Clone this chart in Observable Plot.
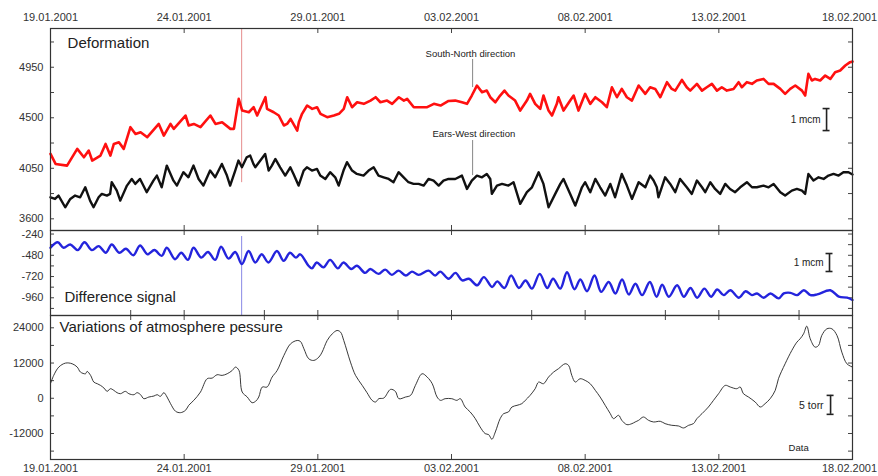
<!DOCTYPE html>
<html><head><meta charset="utf-8">
<script src="https://cdn.jsdelivr.net/npm/d3@7"></script>
<script src="https://cdn.jsdelivr.net/npm/@observablehq/plot@0.6"></script>
<style>
body{margin:0;background:#fff;}
#chart{width:878px;height:476px;}
#chart svg{display:block;overflow:visible;}
</style></head><body><div id="chart"></div>
<script>
// ---- data (day offset from 19.01.2001, value) ----
const startDate = Date.UTC(2001, 0, 19);
const dayTicks = [0, 5, 10, 15, 20, 25, 30];
const minorDayTicks = [3, 8, 13, 18, 23, 28];
const deformTicks = [3600, 3825, 4050, 4275, 4500, 4725, 4950, 5175];
const deformLabels = [3600, 4050, 4500, 4950];
const diffTicks = [-1080, -960, -840, -720, -600, -480, -360, -240];
const diffLabels = [-960, -720, -480, -240];
const pressTicks = [-18000, -12000, -6000, 0, 6000, 12000, 18000, 24000];
const pressLabels = [-12000, 0, 12000, 24000];

const southNorth = [[0,4178],[0.19,4089],[0.62,4074],[1.0,4223],[1.25,4148],[1.43,4208],[1.56,4119],[1.87,4163],[2.06,4267],[2.24,4163],[2.37,4267],[2.56,4282],[2.74,4223],[2.99,4416],[3.18,4356],[3.37,4371],[3.62,4327],[4.05,4445],[4.24,4341],[4.49,4445],[4.61,4401],[5.05,4520],[5.17,4431],[5.36,4445],[5.61,4416],[5.98,4520],[6.17,4445],[6.42,4460],[6.73,4401],[6.86,4401],[7.04,4668],[7.17,4564],[7.42,4549],[7.6,4594],[7.73,4520],[8.04,4683],[8.1,4579],[8.35,4549],[8.54,4520],[8.73,4431],[8.85,4445],[8.98,4490],[9.23,4386],[9.29,4460],[9.41,4535],[9.6,4609],[9.79,4579],[9.97,4594],[10.1,4535],[10.35,4505],[10.6,4520],[10.79,4535],[10.97,4579],[11.1,4683],[11.28,4594],[11.47,4638],[11.72,4624],[11.97,4653],[12.16,4683],[12.34,4638],[12.59,4653],[12.78,4624],[13.03,4683],[13.22,4653],[13.34,4668],[13.59,4594],[13.84,4594],[14.09,4594],[14.34,4624],[14.59,4609],[14.89,4650],[15.14,4653],[15.39,4638],[15.58,4624],[15.76,4698],[15.95,4787],[16.14,4728],[16.32,4742],[16.45,4683],[16.64,4638],[16.82,4698],[16.98,4742],[17.13,4698],[17.38,4653],[17.57,4564],[17.82,4653],[17.94,4713],[18.13,4624],[18.32,4579],[18.44,4698],[18.63,4564],[18.76,4520],[18.94,4624],[19.0,4683],[19.19,4564],[19.44,4653],[19.57,4698],[19.75,4564],[20.0,4713],[20.19,4624],[20.38,4683],[20.63,4638],[20.81,4594],[21.0,4772],[21.19,4683],[21.37,4757],[21.56,4683],[21.75,4653],[22.0,4787],[22.25,4713],[22.43,4772],[22.62,4757],[22.81,4683],[23.06,4817],[23.24,4757],[23.37,4742],[23.62,4837],[23.8,4772],[23.93,4742],[24.18,4802],[24.37,4742],[24.55,4772],[24.74,4802],[24.93,4742],[25.11,4772],[25.3,4742],[25.55,4757],[25.74,4817],[25.86,4772],[26.05,4817],[26.24,4802],[26.42,4832],[26.67,4846],[26.86,4802],[27.05,4802],[27.3,4757],[27.48,4713],[27.67,4757],[27.86,4787],[28.11,4742],[28.23,4698],[28.35,4891],[28.48,4832],[28.6,4846],[28.79,4832],[28.98,4876],[29.17,4846],[29.35,4906],[29.54,4921],[29.73,4965],[29.91,4995],[30,5000]];

const eastWest = [[0,3792],[0.17,3777],[0.3,3807],[0.55,3703],[0.74,3777],[0.92,3807],[1.11,3792],[1.3,3881],[1.48,3762],[1.61,3703],[1.8,3792],[1.92,3822],[2.11,3807],[2.23,3822],[2.29,3926],[2.48,3851],[2.61,3762],[2.86,3896],[3.04,3955],[3.17,3911],[3.35,3955],[3.6,3837],[3.85,3940],[3.98,3985],[4.16,3881],[4.35,4074],[4.6,3940],[4.73,3896],[4.97,4015],[5.16,3970],[5.35,4074],[5.54,3955],[5.72,3896],[5.97,4030],[6.16,3970],[6.41,4089],[6.6,3985],[6.72,3896],[6.91,4030],[7.03,4119],[7.16,4059],[7.34,4148],[7.47,4163],[7.59,4089],[7.66,4059],[7.85,4119],[8.03,4178],[8.16,4030],[8.28,4074],[8.41,4133],[8.59,4059],[8.78,3985],[8.97,4059],[9.09,4000],[9.28,3896],[9.47,4030],[9.59,4059],[9.78,4030],[9.97,4044],[10.09,3985],[10.28,3955],[10.46,4015],[10.65,3970],[10.78,3896],[10.96,4030],[11.09,4104],[11.28,4030],[11.46,4000],[11.71,3985],[11.9,4030],[12.09,4059],[12.27,3985],[12.46,3970],[12.65,3955],[12.83,3926],[13.02,4015],[13.21,3970],[13.39,3926],[13.58,3911],[13.77,3911],[13.96,3896],[14.14,3955],[14.33,3940],[14.52,3896],[14.7,3940],[14.89,3955],[15.14,3955],[15.39,3985],[15.58,3866],[15.76,3940],[15.95,3985],[16.14,3970],[16.32,4000],[16.45,3955],[16.51,3822],[16.7,3896],[16.89,3911],[17.13,3896],[17.32,3926],[17.57,3733],[17.82,3837],[18.01,3881],[18.26,4015],[18.44,3911],[18.63,3703],[18.88,3822],[19.07,3911],[19.19,3955],[19.44,3822],[19.63,3718],[19.88,3881],[20.0,3926],[20.19,3837],[20.38,3955],[20.56,3881],[20.75,3807],[20.94,3911],[21.12,3792],[21.37,4000],[21.56,3896],[21.75,3777],[22.0,3926],[22.25,3881],[22.43,3985],[22.56,3941],[22.68,3881],[22.74,3792],[22.99,3970],[23.18,3911],[23.37,3837],[23.55,3955],[23.8,3881],[23.99,3822],[24.18,3941],[24.37,3881],[24.49,3837],[24.68,3926],[24.86,3866],[25.05,3822],[25.24,3911],[25.42,3866],[25.61,3837],[25.8,3881],[26.05,3926],[26.24,3881],[26.42,3881],[26.67,3896],[26.86,3881],[27.05,3911],[27.3,3837],[27.48,3807],[27.73,3851],[27.92,3866],[28.11,3851],[28.23,3822],[28.35,4000],[28.54,3941],[28.73,3970],[28.92,3955],[29.1,3985],[29.29,4000],[29.48,3985],[29.66,4015],[29.85,4015],[30,3995]];

const difference = [[0,-395],[0.27,-333],[0.49,-395],[0.74,-358],[1.02,-421],[1.27,-333],[1.55,-421],[1.8,-377],[2.07,-451],[2.29,-358],[2.57,-451],[2.82,-406],[3.1,-480],[3.35,-369],[3.63,-469],[3.89,-421],[4.16,-487],[4.35,-395],[4.66,-524],[4.89,-451],[5.14,-532],[5.35,-395],[5.64,-506],[5.89,-443],[6.16,-532],[6.38,-384],[6.66,-517],[6.91,-443],[7.16,-580],[7.41,-432],[7.66,-561],[7.9,-469],[8.15,-561],[8.47,-432],[8.72,-543],[8.96,-451],[9.18,-506],[9.34,-469],[9.65,-598],[9.78,-628],[9.96,-561],[10.21,-616],[10.46,-532],[10.75,-628],[10.96,-561],[11.25,-635],[11.46,-598],[11.77,-679],[11.96,-635],[12.27,-690],[12.52,-642],[12.77,-701],[13.02,-653],[13.29,-709],[13.52,-664],[13.77,-701],[14.14,-653],[14.39,-709],[14.58,-664],[14.89,-745],[15.15,-679],[15.4,-764],[15.65,-745],[15.96,-819],[16.21,-727],[16.52,-838],[16.71,-775],[16.98,-849],[17.23,-709],[17.52,-849],[17.77,-764],[18.01,-856],[18.3,-690],[18.58,-849],[18.8,-745],[19.07,-856],[19.32,-672],[19.6,-863],[19.82,-753],[20.07,-886],[20.35,-709],[20.6,-893],[20.88,-782],[21.13,-911],[21.38,-753],[21.63,-922],[21.88,-801],[22.13,-930],[22.42,-782],[22.67,-948],[22.88,-812],[23.13,-948],[23.44,-819],[23.69,-948],[23.94,-849],[24.19,-959],[24.46,-856],[24.71,-948],[24.94,-867],[25.18,-930],[25.43,-875],[25.75,-959],[26.0,-886],[26.24,-930],[26.43,-911],[26.68,-959],[26.93,-911],[27.24,-967],[27.43,-911],[27.68,-904],[27.93,-930],[28.18,-875],[28.43,-930],[28.68,-922],[29.17,-875],[29.49,-948],[29.8,-959],[30,-985]];

const pressure = [[0,5000],[0.12,7788],[0.31,10620],[0.56,11980],[0.81,11753],[1.0,10620],[1.12,8921],[1.31,8355],[1.37,9148],[1.5,7788],[1.62,5522],[1.75,4955],[1.87,4389],[2.0,3483],[2.12,2350],[2.24,3256],[2.37,2689],[2.49,1896],[2.62,1557],[2.8,2350],[2.93,1557],[3.12,1217],[3.24,1896],[3.37,1217],[3.49,-143],[3.68,424],[3.87,764],[3.99,1217],[4.11,651],[4.24,1896],[4.36,424],[4.49,-1843],[4.68,-4448],[4.86,-4902],[5.05,-4108],[5.17,-2409],[5.36,-710],[5.61,2123],[5.86,6655],[6.05,6882],[6.23,8015],[6.42,7788],[6.61,8355],[6.8,9487],[6.92,10620],[7.05,9487],[7.17,2123],[7.36,424],[7.54,-1502],[7.67,-1049],[7.79,424],[7.92,3823],[8.1,3823],[8.29,7222],[8.48,9487],[8.73,14586],[8.98,18552],[9.23,19685],[9.35,19345],[9.48,16852],[9.66,13453],[9.85,12887],[10.04,14020],[10.16,15719],[10.35,19685],[10.54,21951],[10.72,23084],[10.85,22517],[10.97,19685],[11.22,12320],[11.41,7788],[11.66,4389],[11.84,1896],[12.03,-710],[12.16,-1276],[12.28,-143],[12.47,84],[12.72,3029],[12.9,2350],[13.03,-143],[13.28,424],[13.47,990],[13.65,4389],[13.9,8355],[14.09,7222],[14.28,4955],[14.46,424],[14.59,-710],[14.76,-143],[15.01,-143],[15.2,-710],[15.33,-143],[15.51,-2974],[15.7,-4674],[15.89,-6941],[16.07,-9773],[16.26,-12040],[16.39,-12380],[16.51,-13966],[16.64,-11473],[16.82,-6941],[16.95,-5241],[17.13,-4674],[17.26,-2974],[17.45,-2409],[17.63,-1843],[17.76,-710],[17.94,990],[18.13,3256],[18.26,5522],[18.44,4955],[18.63,7222],[18.82,8921],[19.0,10054],[19.25,11753],[19.38,11187],[19.5,7788],[19.63,5522],[19.81,6655],[20.0,6088],[20.19,4955],[20.38,2689],[20.56,424],[20.75,-2409],[20.94,-5241],[21.06,-6941],[21.25,-5808],[21.37,-7507],[21.56,-8980],[21.75,-8641],[21.87,-8074],[22.0,-7507],[22.18,-6375],[22.37,-7507],[22.56,-8074],[22.81,-7847],[22.99,-8641],[23.24,-9207],[23.49,-9434],[23.68,-10113],[23.87,-9207],[24.05,-8641],[24.18,-6941],[24.37,-5241],[24.61,-2974],[24.8,-710],[24.99,1557],[25.24,4389],[25.43,3823],[25.67,3256],[25.8,3823],[25.92,1557],[26.11,424],[26.36,-1276],[26.55,-2974],[26.73,-1843],[26.92,-143],[27.11,2689],[27.23,6655],[27.48,11753],[27.73,16286],[27.92,19118],[28.04,20251],[28.17,21951],[28.29,24556],[28.42,20251],[28.6,17418],[28.73,17985],[28.85,21384],[29.04,23650],[29.23,23650],[29.42,21384],[29.6,15719],[29.79,11753],[30,10620]];

// ---- helpers ----
const toDate = t => new Date(startDate + t * 864e5);
const W = 878, ML = 50, MR = 26, IW = W - ML - MR;
const xScale = {type: "utc", domain: [toDate(0), toDate(30)]};
const fmtDate = d3.utcFormat("%d.%m.%Y");
const majorDates = dayTicks.map(toDate);
const leftDates = dayTicks.slice(0, -1).map(toDate);
const lastDate = [toDate(dayTicks[dayTicks.length - 1])];
const innerMajor = dayTicks.slice(1, -1).map(toDate);
const edgeTicks = dayTicks.slice(1, -1).concat(minorDayTicks).map(toDate);
const FONT = "Liberation Sans, Arial, sans-serif";
const common = {
  width: W, marginLeft: ML, marginRight: MR,
  style: {fontFamily: FONT, fontSize: "11px", color: "#333", background: "transparent", overflow: "visible"}
};
const X = d => toDate(d[0]), Y = d => d[1];
const yTicksIn = (vals) => [
  Plot.tickY(vals, {y: d => d, insetRight: IW - 4, stroke: "#444"}),
  Plot.tickY(vals, {y: d => d, insetLeft: IW - 4, stroke: "#444"})
];
const yAxis = (vals) => Plot.axisY(vals, {anchor: "left", tickSize: 0, tickPadding: 7, label: null, tickFormat: d => String(d)});
const dateAxis = (anchor, pad) => [
  Plot.axisX(leftDates, {anchor, tickSize: 0, tickPadding: pad, tickFormat: fmtDate, label: null}),
  Plot.axisX(lastDate, {anchor, tickSize: 0, tickPadding: pad, tickFormat: fmtDate, label: null, dx: -3})
];
const scaleBar = (t, lo, hi) => [
  Plot.ruleX([0], {x: () => toDate(t), y1: lo, y2: hi, stroke: "#222", strokeWidth: 1.6}),
  Plot.ruleY([lo, hi], {y: d => d, x1: toDate(t - 0.13), x2: toDate(t + 0.13), stroke: "#222", strokeWidth: 1.6})
];
const label = (txt, t, v, size, anchor = "start") =>
  Plot.text([txt], {x: () => toDate(t), y: () => v, text: d => d, textAnchor: anchor, lineAnchor: "middle", fontSize: size, fontFamily: FONT, fill: "#222"});

// ---- panel 1: deformation ----
const H1 = 230, T1 = 28;
const p1 = Plot.plot({...common, height: H1, marginTop: T1, marginBottom: 0,
  x: {...xScale, axis: null}, y: {domain: [3496, 5295], axis: null},
  marks: [
    ...dateAxis("top", 8),
    yAxis(deformLabels),
    ...yTicksIn(deformTicks),
    Plot.tickX(innerMajor, {x: d => d, insetBottom: H1 - T1 - 5, stroke: "#444"}),
    Plot.tickX(innerMajor, {x: d => d, insetTop: H1 - T1 - 5, stroke: "#444"}),
    Plot.ruleX([0], {x: () => toDate(7.15), y1: 5295, y2: 3922, stroke: "#e07070", strokeWidth: 0.8}),
    Plot.ruleX([0], {x: () => toDate(15.79), y1: 5019, y2: 4769, stroke: "#666", strokeWidth: 0.8}),
    Plot.ruleX([0], {x: () => toDate(15.79), y1: 4297, y2: 3985, stroke: "#666", strokeWidth: 0.8}),
    Plot.line(southNorth, {x: X, y: Y, stroke: "#ff1010", strokeWidth: 2.6, strokeLinejoin: "round"}),
    Plot.line(eastWest, {x: X, y: Y, stroke: "#111", strokeWidth: 2.4, strokeLinejoin: "round"}),
    label("Deformation", 0.64, 5161, 15),
    label("South-North direction", 14.03, 5072, 9.5),
    label("Ears-West direction", 14.29, 4359, 9.5),
    label("1 mcm", 28.81, 4478, 10, "end"),
    ...scaleBar(29.03, 4386, 4582),
    Plot.frame({stroke: "#333", strokeWidth: 1.2})
  ]
});

// ---- panel 2: difference signal ----
const H2 = 85;
const p2 = Plot.plot({...common, height: H2, marginTop: 0, marginBottom: 0,
  x: {...xScale, axis: null}, y: {domain: [-1160, -200], axis: null},
  marks: [
    yAxis(diffLabels),
    ...yTicksIn(diffTicks),
    Plot.tickX(innerMajor, {x: d => d, insetBottom: H2 - 5, stroke: "#444"}),
    Plot.tickX(edgeTicks, {x: d => d, insetTop: H2 - 5, stroke: "#444"}),
    Plot.ruleX([0], {x: () => toDate(7.15), y1: -268, y2: -1160, stroke: "#6a6ae0", strokeWidth: 0.8}),
    Plot.line(difference, {x: X, y: Y, stroke: "#2424dc", strokeWidth: 2.4, curve: "catmull-rom"}),
    label("Difference signal", 0.52, -957, 15),
    label("1 mcm", 28.92, -565, 10, "end"),
    ...scaleBar(29.14, -663, -460),
    Plot.frame({stroke: "#333", strokeWidth: 1.2})
  ]
});

// ---- panel 3: atmospheric pressure ----
const H3 = 161, B3 = 17;
const p3 = Plot.plot({...common, height: H3, marginTop: 0, marginBottom: B3,
  x: {...xScale, axis: null}, y: {domain: [-20855, 28190], axis: null},
  marks: [
    ...dateAxis("bottom", 5),
    yAxis(pressLabels),
    ...yTicksIn(pressTicks),
    Plot.tickX(edgeTicks, {x: d => d, insetBottom: H3 - B3 - 5, stroke: "#444"}),
    Plot.tickX(innerMajor, {x: d => d, insetTop: H3 - B3 - 5, stroke: "#444"}),
    Plot.line(pressure, {x: X, y: Y, stroke: "#222", strokeWidth: 0.9, curve: "catmull-rom"}),
    label("Variations of atmosphere pessure", 0.34, 24100, 15),
    label("5 torr", 28.92, -2418, 10.5, "end"),
    label("Data", 27.61, -17038, 9.5),
    ...scaleBar(29.18, -5478, 982),
    Plot.frame({stroke: "#333", strokeWidth: 1.2})
  ]
});

const root = document.getElementById("chart");
root.append(p1, p2, p3);
</script></body></html>
